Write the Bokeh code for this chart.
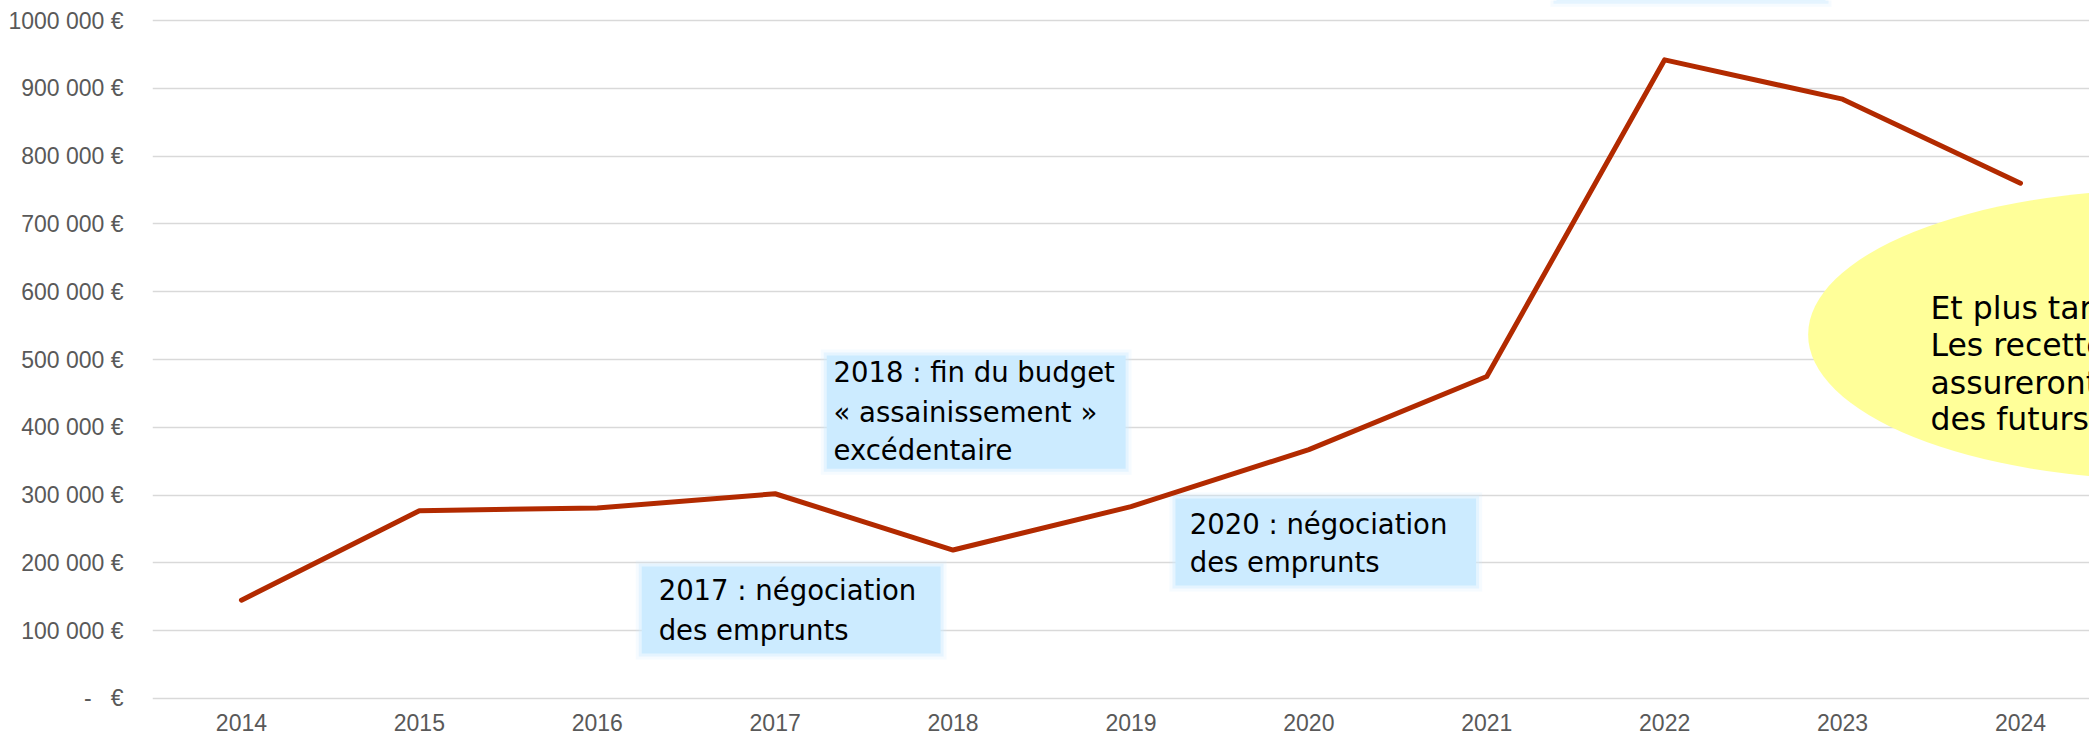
from bokeh.plotting import figure
from bokeh.models import Range1d, FixedTicker
from bokeh.core.properties import value
from bokeh.embed import file_html
from bokeh.resources import INLINE

# ---------------- data ----------------
years = [2014, 2015, 2016, 2017, 2018, 2019, 2020, 2021, 2022, 2023, 2024]
amounts = [145000, 277000, 281000, 302000, 219000, 283000, 367000, 475000, 942000, 884000, 760000]

y_ticks = [0, 100000, 200000, 300000, 400000, 500000, 600000, 700000, 800000, 900000, 1000000]
y_tick_labels = ["-\u00a0\u00a0\u00a0€", "100 000 €", "200 000 €", "300 000 €", "400 000 €",
                 "500 000 €", "600 000 €", "700 000 €", "800 000 €", "900 000 €", "1000 000 €"]
x_tick_labels = ["2014", "2015", "2016", "2017", "2018", "2019", "2020", "2021", "2022", "2023", "2024"]

# annotation boxes (data units); the last one is cut by the top edge
box_left = [2016.25, 2017.29, 2019.25, 2021.392]
box_right = [2017.93, 2018.97, 2020.94, 2022.904]
box_top = [194700, 506000, 295000, 1080000]
box_bottom = [66400, 339000, 166700, 1029000]

note_x = [2016.345, 2016.345, 2017.328, 2017.328, 2017.328, 2019.33, 2019.33]
note_y = [160000, 100600, 481600, 423300, 365800, 256900, 200600]
note_text = ["2017 : négociation", "des emprunts",
             "2018 : fin du budget", "« assainissement »", "excédentaire",
             "2020 : négociation", "des emprunts"]

# callout ellipse
ell_x = [2024.83]
ell_y = [536900]
ell_text_x = [2023.494, 2023.494, 2023.494, 2023.494]
ell_text_y = [575700, 520700, 465600, 412500]
ell_text = ["Et plus tard", "Les recettes", "assureront", "des futurs"]

# ---------------- figure ----------------
p = figure(width=2089, height=739,
           x_range=Range1d(2013.5, 2024.388),
           y_range=Range1d(-22124, 1029499),
           output_backend="svg", toolbar_location=None,
           min_border_left=152, min_border_right=0,
           min_border_top=0, min_border_bottom=26)

p.outline_line_color = None
p.background_fill_color = "white"
p.border_fill_color = "white"

p.xgrid.visible = False
p.ygrid.ticker = FixedTicker(ticks=y_ticks)
p.ygrid.grid_line_color = "#D9D9D9"
p.ygrid.grid_line_width = 1.4

ax = p.yaxis[0]
ax.ticker = FixedTicker(ticks=y_ticks)
ax.major_label_overrides = {t: l for t, l in zip(y_ticks, y_tick_labels)}
ax.axis_line_color = None
ax.major_tick_line_color = None
ax.minor_tick_line_color = None
ax.major_tick_out = 0
ax.major_tick_in = 0
ax.major_label_standoff = 29
ax.major_label_text_font = "Liberation Sans"
ax.major_label_text_font_size = "23px"
ax.major_label_text_color = "#595959"

bx = p.xaxis[0]
bx.ticker = FixedTicker(ticks=years)
bx.major_label_overrides = {t: l for t, l in zip(years, x_tick_labels)}
bx.axis_line_color = None
bx.major_tick_line_color = None
bx.minor_tick_line_color = None
bx.major_tick_out = 0
bx.major_tick_in = 0
bx.major_label_standoff = 0
bx.major_label_text_font = "Liberation Sans"
bx.major_label_text_font_size = "23px"
bx.major_label_text_color = "#595959"

# annotation boxes with soft glow
gx = 3 / 177.9
gy = 3 * 1474.93
for k, a in ((2, 0.18), (1, 0.4)):
    p.quad(left=[l - k * gx for l in box_left], right=[r + k * gx for r in box_right],
           top=[t + k * gy for t in box_top], bottom=[b - k * gy for b in box_bottom],
           fill_color="#CCEBFF", fill_alpha=a, line_color=None)
p.quad(left=box_left, right=box_right, top=box_top, bottom=box_bottom,
       fill_color="#CCEBFF", line_color=None)

p.text(x=note_x, y=note_y, text=note_text,
       text_font=value("DejaVu Sans"), text_font_size="27.5px",
       text_color="#000000", text_baseline="alphabetic", text_align="left")

# callout ellipse
p.ellipse(x=ell_x, y=ell_y, width=720, height=290,
          width_units="screen", height_units="screen",
          fill_color="#FFFF99", line_color=None)
p.text(x=ell_text_x, y=ell_text_y, text=ell_text,
       text_font=value("DejaVu Sans"), text_font_size="31.5px",
       text_color="#000000", text_baseline="alphabetic", text_align="left")

# main series
p.line(years, amounts, line_color="#B22A00", line_width=5,
       line_join="round", line_cap="round")

open("out.html", "w").write(file_html(p, INLINE))
